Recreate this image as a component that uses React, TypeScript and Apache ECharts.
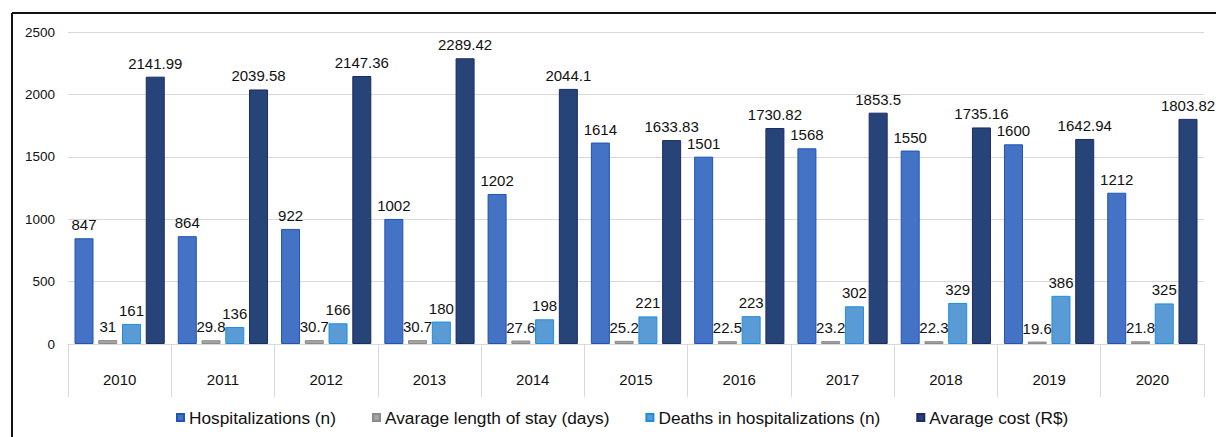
import React, { useEffect, useRef } from "react";
import * as echarts from "echarts";

const years = ["2010", "2011", "2012", "2013", "2014", "2015", "2016", "2017", "2018", "2019", "2020"];
const hospitalizations = [847, 864, 922, 1002, 1202, 1614, 1501, 1568, 1550, 1600, 1212];
const lengthOfStay = [31, 29.8, 30.7, 30.7, 27.6, 25.2, 22.5, 23.2, 22.3, 19.6, 21.8];
const deaths = [161, 136, 166, 180, 198, 221, 223, 302, 329, 386, 325];
const avgCost = [2141.99, 2039.58, 2147.36, 2289.42, 2044.1, 1633.83, 1730.82, 1853.5, 1735.16, 1642.94, 1803.82];

const FONT = "'Liberation Sans', Arial, sans-serif";

export default function App() {
  const ref = useRef<HTMLDivElement>(null);
  useEffect(() => {
    if (!ref.current) return;
    const chart = echarts.init(ref.current, undefined, { renderer: "svg" });
    const label = {
      show: true,
      position: "top" as const,
      distance: 6,
      color: "#111",
      fontSize: 15,
      fontFamily: FONT,
    };
    const mk = (name: string, data: number[], color: string, border: string) => ({
      name,
      type: "bar" as const,
      data,
      barWidth: 19,
      barGap: "25%",
      itemStyle: { color, borderColor: border, borderWidth: 1 },
      label,
    });
    chart.setOption({
      animation: false,
      textStyle: { fontFamily: FONT },
      grid: { left: 68, right: 12, top: 32, bottom: 93, containLabel: false },
      legend: {
        top: 404,
        left: 171,
        itemWidth: 7,
        itemHeight: 7,
        itemGap: 36,
        icon: "rect",
        textStyle: { fontSize: 17.3, color: "#111", fontFamily: FONT },
      },
      xAxis: {
        type: "category",
        data: years,
        axisLine: { lineStyle: { color: "#d9d9d9", width: 1 } },
        axisTick: { show: true, length: 53, lineStyle: { color: "#d9d9d9" } },
        axisLabel: { color: "#111", fontSize: 15, margin: 28, fontFamily: FONT },
      },
      yAxis: {
        type: "value",
        min: 0,
        max: 2500,
        interval: 500,
        axisLine: { show: false },
        axisTick: { show: false },
        splitLine: { lineStyle: { color: "#d9d9d9" } },
        axisLabel: {
          color: "#111",
          fontSize: 13.5,
          margin: 13,
          fontFamily: FONT,
          formatter: (v: number) => String(v),
        },
      },
      series: [
        mk("Hospitalizations (n)", hospitalizations, "#4472c4", "#1f54b8"),
        mk("Avarage length of stay (days)", lengthOfStay, "#a5a5a5", "#8a8a8a"),
        mk("Deaths in hospitalizations (n)", deaths, "#5b9bd5", "#1c8ee0"),
        mk("Avarage cost (R$)", avgCost, "#264478", "#1d2a66"),
      ],
      graphic: [
        { type: "line", shape: { x1: 12, y1: 13, x2: 1216, y2: 13 }, style: { stroke: "#111", lineWidth: 2 } },
        { type: "line", shape: { x1: 12, y1: 13, x2: 12, y2: 437 }, style: { stroke: "#111", lineWidth: 2 } },
      ],
    });
    return () => chart.dispose();
  }, []);
  return (
    <div
      ref={ref}
      style={{ position: "absolute", left: 0, top: 0, width: 1216, height: 437, background: "#fff" }}
    />
  );
}
